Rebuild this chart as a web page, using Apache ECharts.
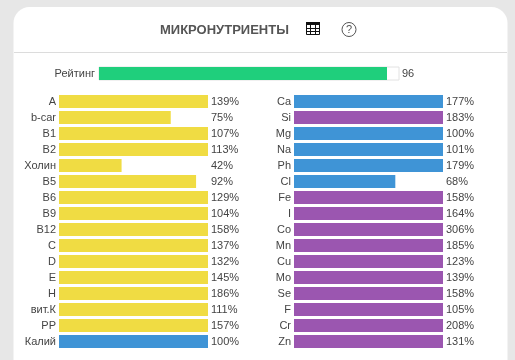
<!DOCTYPE html>
<html><head><meta charset="utf-8">
<style>html,body{margin:0;padding:0;background:#e7e7e7}#c{width:515px;height:360px}</style>
<script src="https://cdn.jsdelivr.net/npm/echarts@6/dist/echarts.min.js"></script>
</head><body><div id="c"></div>
<script>
const titleText = 'МИКРОНУТРИЕНТЫ';
const ratingLabel = ['Рейтинг'];
const ratingValue = [96];
const leftNames = ['A','b-car','B1','B2','Холин','B5','B6','B9','B12','C','D','E','H','вит.К','PP','Калий'];
const leftValues = [139,75,107,113,42,92,129,104,158,137,132,145,186,111,157,100];
const leftKinds = ['v','v','v','v','v','v','v','v','v','v','v','v','v','v','v','m'];
const rightNames = ['Ca','Si','Mg','Na','Ph','Cl','Fe','I','Co','Mn','Cu','Mo','Se','F','Cr','Zn'];
const rightValues = [177,183,100,101,179,68,158,164,306,185,123,139,158,105,208,131];
const rightKinds = ['m','t','m','m','m','m','t','t','t','t','t','t','t','t','t','t'];
const kindColor = {v:'#f0dc43', m:'#3f94d6', t:'#9b56b0'};
const font = 'Arial, "Liberation Sans", sans-serif';
const txt = '#444';

const grids = [
  {left:99, width:300, top:67, height:13},
  {left:59, width:149, top:93.5, height:256},
  {left:294, width:149, top:93.5, height:256}
];
const xAxis = grids.map((g,i)=>({gridIndex:i,type:'value',min:0,max:100,show:false}));
function cat(i,data,pos,margin){
  return {gridIndex:i,type:'category',inverse:true,position:pos,data,
    axisLine:{show:false},axisTick:{show:false},
    axisLabel:{interval:0,color:txt,fontSize:11,fontFamily:font,margin}};
}
const yAxis = [
  cat(0,ratingLabel,'left',4), cat(0,ratingValue.map(String),'right',3),
  cat(1,leftNames,'left',3), cat(1,leftValues.map(v=>v+'%'),'right',3),
  cat(2,rightNames,'left',3), cat(2,rightValues.map(v=>v+'%'),'right',3)
];
function bars(i,values,kinds){
  return {type:'bar',xAxisIndex:i,yAxisIndex:i*2,barWidth:13,clip:true,silent:true,
    data:values.map((v,k)=>({value:v,itemStyle:{color:kindColor[kinds[k]]}}))};
}
const chart = echarts.init(document.getElementById('c'),null,{renderer:'canvas'});
chart.setOption({
  animation:false,
  backgroundColor:'#e7e7e7',
  title:{text:titleText,left:155,top:19,textStyle:{fontFamily:font,fontSize:13,fontWeight:'bold',color:'#555'}},
  grid:grids,xAxis,yAxis,
  series:[
    {type:'bar',xAxisIndex:0,yAxisIndex:0,barWidth:13,silent:true,data:ratingValue,
     itemStyle:{color:'#1fcf7c'},showBackground:true,
     backgroundStyle:{color:'#fff',borderColor:'#e2e2e2',borderWidth:1}},
    bars(1,leftValues,leftKinds),
    bars(2,rightValues,rightKinds)
  ],
  graphic:[
    {type:'rect',z:-10,silent:true,shape:{x:13.5,y:7,width:494,height:380,r:16},style:{fill:'#fff'}},
    {type:'line',z:-9,silent:true,shape:{x1:14,y1:52.5,x2:507,y2:52.5},style:{stroke:'#dcdcdc',lineWidth:1}},
    {type:'group',x:306,y:22,silent:true,children:[
      {type:'rect',shape:{x:0.5,y:0.5,width:13,height:12},style:{fill:'#fff',stroke:'#111',lineWidth:1}},
      {type:'rect',shape:{x:0,y:0,width:14,height:3},style:{fill:'#111'}},
      {type:'line',shape:{x1:0,y1:6.5,x2:14,y2:6.5},style:{stroke:'#111',lineWidth:1}},
      {type:'line',shape:{x1:0,y1:9.5,x2:14,y2:9.5},style:{stroke:'#111',lineWidth:1}},
      {type:'line',shape:{x1:4.5,y1:0,x2:4.5,y2:13},style:{stroke:'#111',lineWidth:1}},
      {type:'line',shape:{x1:9.5,y1:0,x2:9.5,y2:13},style:{stroke:'#111',lineWidth:1}}
    ]},
    {type:'circle',silent:true,shape:{cx:349,cy:29.5,r:7},style:{fill:'#fff',stroke:'#555',lineWidth:1}},
    {type:'text',silent:true,x:349,y:30,style:{text:'?',fill:'#555',font:'11px '+font,align:'center',verticalAlign:'middle'}}
  ]
});
</script></body></html>
